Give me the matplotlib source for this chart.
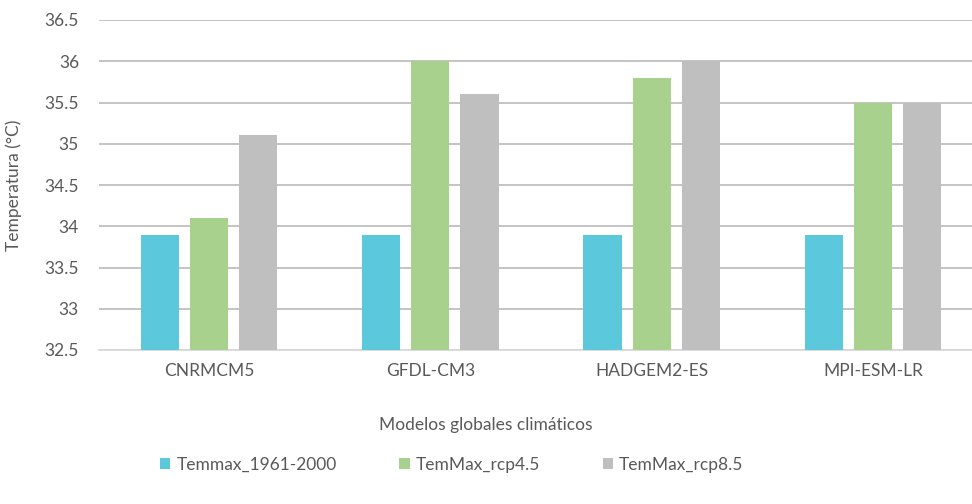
import numpy as np
import matplotlib
matplotlib.use('Agg')
import matplotlib.pyplot as plt

plt.rcParams['font.family'] = ['Lato', 'DejaVu Sans']

# Data
modelos = ['CNRMCM5', 'GFDL-CM3', 'HADGEM2-ES', 'MPI-ESM-LR']
series = ['Temmax_1961-2000', 'TemMax_rcp4.5', 'TemMax_rcp8.5']
temmax_hist = [33.9, 33.9, 33.9, 33.9]
temmax_rcp45 = [34.1, 36.0, 35.8, 35.5]
temmax_rcp85 = [35.1, 35.6, 36.0, 35.5]
colores = ['#5BC9DB', '#A9D18E', '#BFBFBF']
yticks = [32.5, 33, 33.5, 34, 34.5, 35, 35.5, 36, 36.5]

texto = '#595959'
fs = 12.5

fig = plt.figure(figsize=(9.72, 5.04), dpi=100)
W, H = 972, 504
# plot area (extends a bit past the right edge like the original)
ax = fig.add_axes([98.5 / W, 1 - 350 / H, 885 / W, 330 / H])

x = np.arange(len(modelos))
ancho = 0.172
paso = 0.222
valores = [temmax_hist, temmax_rcp45, temmax_rcp85]
for i, (vals, col, nombre) in enumerate(zip(valores, colores, series)):
    ax.bar(x + (i - 1) * paso, np.array(vals) - 32.5, bottom=32.5, width=ancho,
           color=col, label=nombre, zorder=3)

ax.set_xlim(-0.5, len(modelos) - 0.5)
ax.set_ylim(32.5, 36.5)
ax.set_yticks(yticks)
ax.set_yticklabels([('%g' % v) for v in yticks])
ax.set_xticks(x)
ax.set_xticklabels(modelos)
ax.tick_params(axis='both', length=0, labelsize=fs, colors=texto)
ax.tick_params(axis='y', pad=14)
ax.tick_params(axis='x', pad=9)
ax.grid(axis='y', color='#BFBFBF', linewidth=1.3, zorder=0)
for s in ['top', 'right', 'left']:
    ax.spines[s].set_visible(False)
ax.spines['bottom'].set_color('#D9D9D9')
ax.spines['bottom'].set_linewidth(1.3)

ax.set_ylabel('Temperatura (°C)', fontsize=fs, color=texto)
ax.yaxis.label.set_verticalalignment('center')
ax.yaxis.set_label_coords(-84.5 / 885, 0.5)

fig.text(486 / W, 1 - 425 / H, 'Modelos globales climáticos', fontsize=fs,
         color=texto, ha='center', va='center')

leg = fig.legend(loc='center left', bbox_to_anchor=(160 / W, 1 - 465 / H), ncol=3,
                 frameon=False, fontsize=fs, handlelength=0.6, handleheight=0.6,
                 handletextpad=0.35, columnspacing=3.6, labelcolor=texto,
                 borderpad=0, borderaxespad=0)

fig.savefig('out.png', dpi=100)
